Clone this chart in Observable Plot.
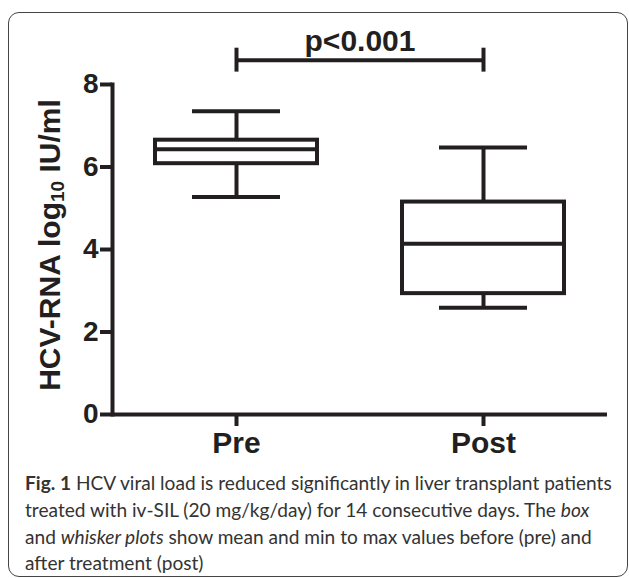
<!DOCTYPE html>
<html><head><meta charset="utf-8">
<script src="https://cdn.jsdelivr.net/npm/d3@7"></script>
<script src="https://cdn.jsdelivr.net/npm/@observablehq/plot@0.6"></script>
<style>
body{margin:0;background:#fff;}
#wrap{position:relative;width:629px;height:578px;overflow:hidden;background:#fff;}
#frame{position:absolute;left:8px;top:12px;width:620px;height:565px;border:1.5px solid #444;border-radius:11px;box-sizing:border-box;}
#chart{position:absolute;left:0;top:0;}
.cap{position:absolute;left:25px;white-space:nowrap;font-family:Lato, "Open Sans", sans-serif;color:#333;line-height:1;}
</style></head><body>
<div id="wrap"><div id="frame"></div><div id="chart"></div><div id="caption"></div></div>
<script>
// ---- data ----
const groups = ["Pre", "Post"];
const mins    = [5.27, 2.59];
const q1s     = [6.08, 2.93];
const medians = [6.43, 4.14];
const q3s     = [6.65, 5.15];
const maxs    = [7.35, 6.47];
const yTicks  = [0, 2, 4, 6, 8];
const yDomain = [0, 8];
const pLabel  = "p<0.001";
const sigBarY = 8.59;          // data units, above the axis top
const sigCapHalf = 0.29;
const yTitleMain = "HCV-RNA log";
const yTitleSub = "10";
const yTitleUnit = " IU/ml";
const captionLines = [
  [{b:"Fig. 1"}, {t:" HCV viral load is reduced significantly in liver transplant patients"}],
  [{t:"treated with iv-SIL (20 mg/kg/day) for 14 consecutive days. The "}, {i:"box"}],
  [{t:"and "}, {i:"whisker plots"}, {t:" show mean and min to max values before (pre) and"}],
  [{t:"after treatment (post)"}]
];

const rows = groups.map((g, i) => ({g, min: mins[i], q1: q1s[i], med: medians[i], q3: q3s[i], max: maxs[i]}));
const ink = "#231f20";
const sw = 4;

const plot = Plot.plot({
  width: 629, height: 460,
  marginLeft: 112, marginRight: 22, marginTop: 84, marginBottom: 46,
  style: {fontFamily: "'Liberation Sans', Arial, sans-serif", fontWeight: "bold", color: ink, background: "transparent", overflow: "visible"},
  x: {type: "band", domain: groups, paddingInner: 0.3455, paddingOuter: 0.1727, axis: null},
  y: {domain: yDomain, axis: null},
  marks: [
    Plot.ruleX(rows, {x: "g", y1: "min", y2: "q1", stroke: ink, strokeWidth: sw}),
    Plot.ruleX(rows, {x: "g", y1: "q3", y2: "max", stroke: ink, strokeWidth: sw}),
    Plot.tickY(rows, {x: "g", y: "min", stroke: ink, strokeWidth: sw, insetLeft: 37, insetRight: 37}),
    Plot.tickY(rows, {x: "g", y: "max", stroke: ink, strokeWidth: sw, insetLeft: 37, insetRight: 37}),
    Plot.barY(rows, {x: "g", y1: "q1", y2: "q3", fill: "white", stroke: ink, strokeWidth: sw}),
    Plot.tickY(rows, {x: "g", y: "med", stroke: ink, strokeWidth: sw}),
    // axes
    Plot.axisY({ticks: yTicks, tickSize: 12, tickPadding: 2, fontSize: 28, strokeWidth: sw, stroke: ink, fill: ink, label: null, tickFormat: d => d}),
    Plot.axisX({tickSize: 12, tickPadding: 5, fontSize: 30, strokeWidth: sw, stroke: ink, fill: ink, label: null}),
    Plot.frame({anchor: "left", stroke: ink, strokeWidth: sw}),
    Plot.ruleY([0], {stroke: ink, strokeWidth: sw}),
    // significance bar
    Plot.link([{a: groups[0], b: groups[1]}], {x1: "a", x2: "b", y1: () => sigBarY, y2: () => sigBarY, stroke: ink, strokeWidth: sw}),
    Plot.ruleX(groups, {x: d => d, y1: () => sigBarY - sigCapHalf, y2: () => sigBarY + sigCapHalf, stroke: ink, strokeWidth: sw}),
    Plot.text([pLabel], {text: d => d, y: () => sigBarY, dy: -9, lineAnchor: "bottom", fontSize: 30, fontWeight: "bold", fill: ink})
  ]
});
document.getElementById("chart").appendChild(plot);

// y-axis title with subscript
const yS = plot.scale("y");
const svg = d3.select(plot);
const ymid = (yS.apply(yDomain[0]) + yS.apply(yDomain[1])) / 2 - 4;
const tt = svg.append("text")
  .attr("transform", `translate(60,${ymid}) rotate(-90)`)
  .attr("text-anchor", "middle")
  .attr("font-family", "'Liberation Sans', Arial, sans-serif")
  .attr("font-weight", "bold").attr("font-size", 30).attr("fill", ink);
tt.append("tspan").text(yTitleMain);
tt.append("tspan").text(yTitleSub).attr("font-size", 19).attr("dy", 4);
tt.append("tspan").text(yTitleUnit).attr("font-size", 30).attr("dy", -4);

// caption
const cap = document.getElementById("caption");
const baselines = [488, 515, 542, 568];
const targetW = 587;
function makeLine(parts, fs) {
  const d = document.createElement("div");
  d.className = "cap";
  d.style.fontSize = fs + "px";
  for (const p of parts) {
    const s = document.createElement("span");
    if (p.b) { s.textContent = p.b; s.style.fontWeight = "bold"; }
    else if (p.i) { s.textContent = p.i; s.style.fontStyle = "italic"; }
    else s.textContent = p.t;
    d.appendChild(s);
  }
  return d;
}
let fs = 20;
const probe = makeLine(captionLines[0], fs);
cap.appendChild(probe);
const w = probe.getBoundingClientRect().width;
cap.removeChild(probe);
fs = fs * targetW / w;
captionLines.forEach((parts, i) => {
  const d = makeLine(parts, fs);
  // with line-height 1, baseline ~ 0.8em below top for Lato
  d.style.top = (baselines[i] - fs * 0.8) + "px";
  cap.appendChild(d);
});
</script>
</body></html>
